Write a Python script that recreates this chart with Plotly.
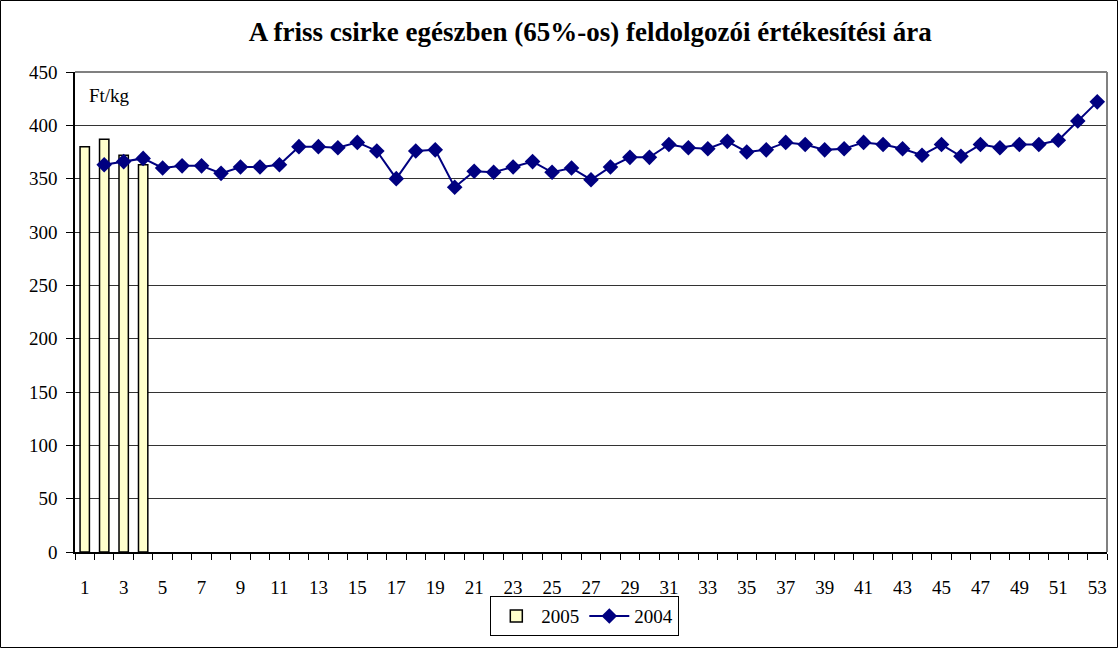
import plotly.graph_objects as go

weeks = list(range(1, 54))
weeks_2005 = [1, 2, 3, 4]
price_2005 = [380, 387, 372, 363]
price_2004 = [None, 363, 366, 369, 360, 362, 362, 355, 361, 361, 363,
              380, 380, 379, 384, 376, 350, 376, 377, 342, 357,
              356, 361, 366, 356, 360, 349, 361, 370, 370, 382,
              379, 378, 385, 375, 377, 384, 382, 377, 378, 384,
              382, 378, 372, 382, 371, 382, 379, 382, 382, 386, 404, 422]
y_ticks = list(range(0, 451, 50))
x_labels = list(range(1, 54, 2))

serif = "Liberation Serif, Times New Roman, serif"

fig = go.Figure()

# 2005 bars
fig.add_trace(go.Bar(x=weeks_2005, y=price_2005, name="2005", width=0.48,
                     marker=dict(color="#FFFFCC", line=dict(color="black", width=1.5))))

# 2004 line
fig.add_trace(go.Scatter(x=weeks, y=price_2004, name="2004", mode="lines+markers",
                         line=dict(color="#000080", width=2),
                         marker=dict(symbol="diamond", size=12, color="#000080")))

fig.update_layout(
    width=1118, height=648,
    margin=dict(l=75, r=11, t=72, b=96),
    paper_bgcolor="white", plot_bgcolor="white",
    font=dict(family=serif, size=19, color="black"),
    title=dict(text="<b>A friss csirke egészben (65%-os) feldolgozói értékesítési ára</b>",
               x=0.528, xanchor="center", y=0.951, yanchor="middle",
               font=dict(family=serif, size=27, color="black")),
    showlegend=True,
    legend=dict(orientation="h", x=0.494, xanchor="center", y=-0.092, yanchor="top",
                bordercolor="black", borderwidth=1, bgcolor="white",
                font=dict(family=serif, size=19), itemwidth=40, tracegroupgap=0,
                valign="middle"),
)

fig.update_xaxes(range=[0.5, 53.5], tickmode="array", tickvals=x_labels,
                 ticktext=[str(v) for v in x_labels], ticks="", showgrid=False,
                 showline=True, linecolor="black", linewidth=1.5, zeroline=False,
                 tickfont=dict(family=serif, size=19), ticklabelstandoff=17,
                 minor=dict(tickmode="array", tickvals=[w - 0.5 for w in weeks] + [53.5],
                            ticks="outside", ticklen=6, tickcolor="black", tickwidth=1,
                            showgrid=False))

fig.update_yaxes(range=[0, 450], tickmode="array", tickvals=y_ticks, ticks="outside",
                 ticklen=7, tickcolor="black", showgrid=True, gridcolor="#333333",
                 gridwidth=1, showline=True, linecolor="black", linewidth=1.5,
                 zeroline=False, tickfont=dict(family=serif, size=19), ticklabelstandoff=5)

# gray plot-area frame on top and right
fig.add_shape(type="line", xref="paper", yref="paper", x0=0, x1=1, y0=1, y1=1,
              line=dict(color="#808080", width=2))
fig.add_shape(type="line", xref="paper", yref="paper", x0=1, x1=1, y0=0, y1=1,
              line=dict(color="#808080", width=2))

# unit label
fig.add_annotation(text="Ft/kg", xref="paper", yref="paper", x=0.012, y=0.952,
                   xanchor="left", yanchor="middle", showarrow=False,
                   font=dict(family=serif, size=19, color="black"))

# outer chart border
fig.add_shape(type="rect", xref="paper", yref="paper",
              x0=-74.5 / 1032, x1=1 + 10.5 / 1032, y0=-95.5 / 480, y1=1 + 71.5 / 480,
              line=dict(color="black", width=1))

fig.write_html("out.html", config={"displayModeBar": False},
               post_script="document.body.style.margin='0';")
